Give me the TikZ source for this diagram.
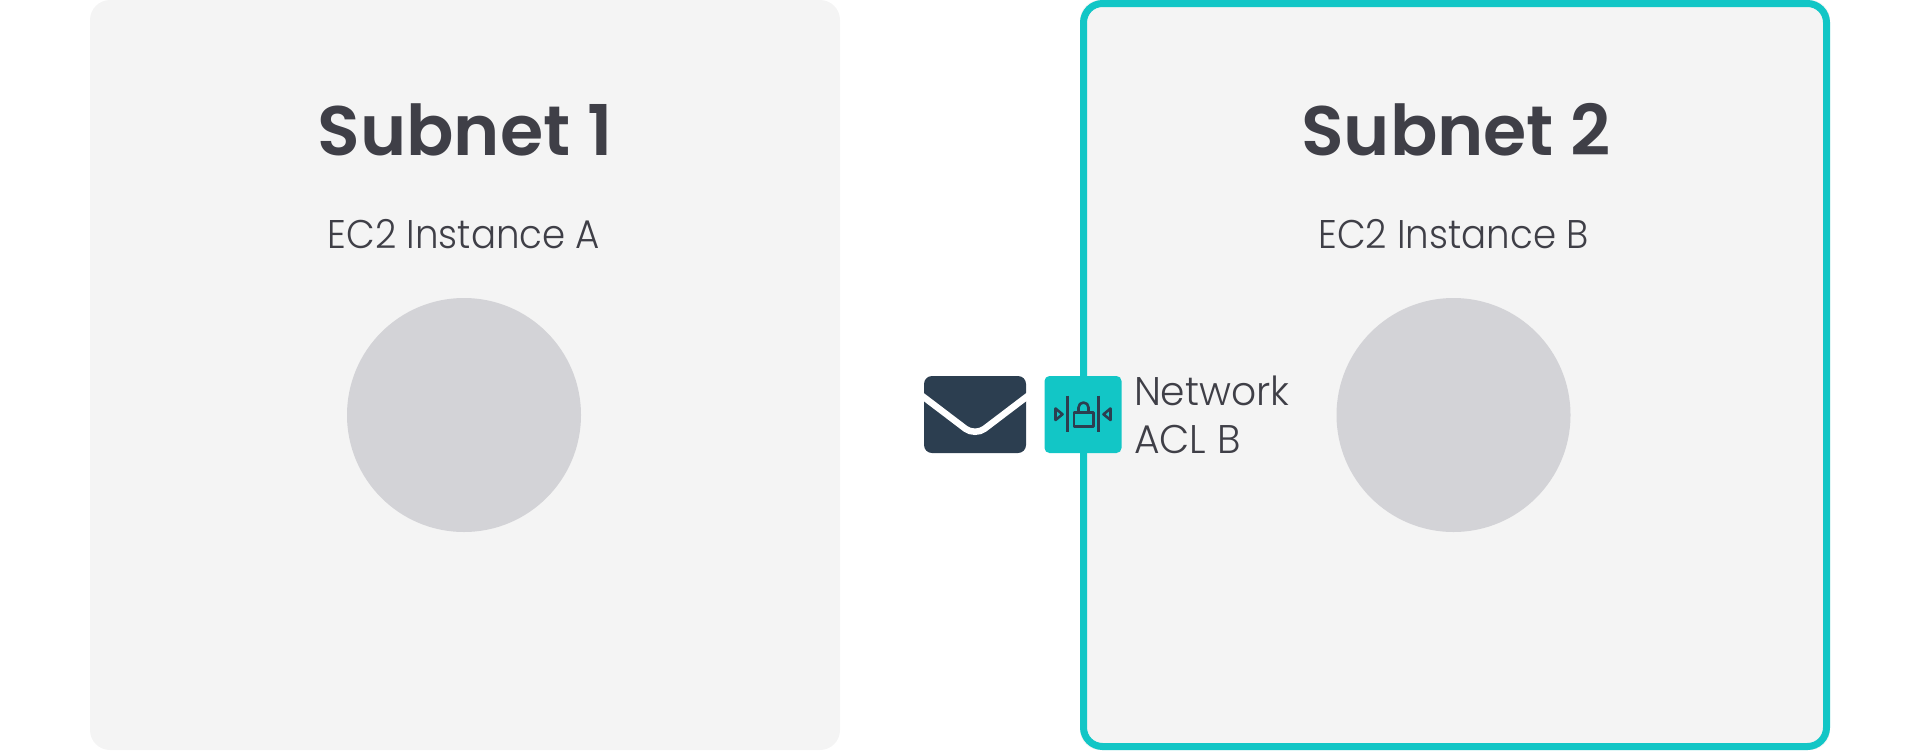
\documentclass[tikz,border=0pt]{standalone}
\usepackage{fontspec}
\setmainfont{Poppins}
\newfontfamily\headf[UprightFont={* SemiBold}]{Poppins}
\newfontfamily\bodyf[UprightFont={* Light}]{Poppins}
\definecolor{panel}{HTML}{F4F4F4}
\definecolor{teal}{HTML}{12C6C6}
\definecolor{ink}{HTML}{3F3F47}
\definecolor{navy}{HTML}{2C3E50}
\definecolor{disc}{HTML}{D3D3D7}
\tikzset{
  x=1pt,y=-1pt,
  panelbox/.style={fill=panel,rounded corners=20pt},
  instance/.style={circle,fill=disc,minimum size=234pt,inner sep=0pt,outer sep=0pt},
  heading/.style={inner sep=0pt,outer sep=0pt,anchor=base,text=ink,font=\headf\fontsize{70}{78}\selectfont},
  body/.style={inner sep=0pt,outer sep=0pt,text=ink,font=\bodyf\fontsize{40}{48}\selectfont},
  icon/.style={draw=navy,line width=2.6pt,line join=round},
}
\begin{document}
\begin{tikzpicture}
\useasboundingbox (0,0) rectangle (1920,750);
% panels
\path[panelbox] (90,0) rectangle (840,750);
\path[panelbox] (1080,0) rectangle (1830,750);
\draw[teal,line width=7pt,rounded corners=19pt] (1083.5,3.5) rectangle (1826.5,746.5);
% headings
\node[heading] (s1) at (465,155) {Subnet 1};
\node[heading] (s2) at (1456,155) {Subnet 2};
\node[body,anchor=base] (a) at (464,248) {\scalebox{0.93}[1]{EC2 Instance A}};
\node[body,anchor=base] (b) at (1453.5,248) {\scalebox{0.93}[1]{EC2 Instance B}};
% instances
\node[instance] (ca) at (464,415) {};
\node[instance] (cb) at (1453.5,415) {};
% envelope
\fill[navy,rounded corners=8pt] (924,376) rectangle (1026,453);
\draw[white,line width=6.5pt,rounded corners=12pt] (921,395) -- (975,436) -- (1029,395);
% ACL tile
\fill[teal,rounded corners=5pt] (1044.5,376) rectangle (1121.5,453);
\draw[icon] (1067.3,395.7) -- (1067.3,432.3);
\draw[icon] (1098.7,395.7) -- (1098.7,432.3);
\draw[icon] (1074,412.7) rectangle (1093.3,426.5);
\draw[icon] (1078.5,412.7) -- (1078.5,407.5) arc[start angle=180,end angle=0,radius=5pt] -- (1088.5,412.7);
\draw[icon] (1055.5,408.5) -- (1062.5,414.3) -- (1055.5,420) -- cycle;
\draw[icon] (1110.5,408.5) -- (1103.5,414.3) -- (1110.5,420) -- cycle;
\node[body,anchor=base west] (n1) at (1134,405) {\scalebox{0.98}[1]{Network}};
\node[body,anchor=base west] (n2) at (1134,453) {\scalebox{0.98}[1]{ACL B}};
\end{tikzpicture}
\end{document}
